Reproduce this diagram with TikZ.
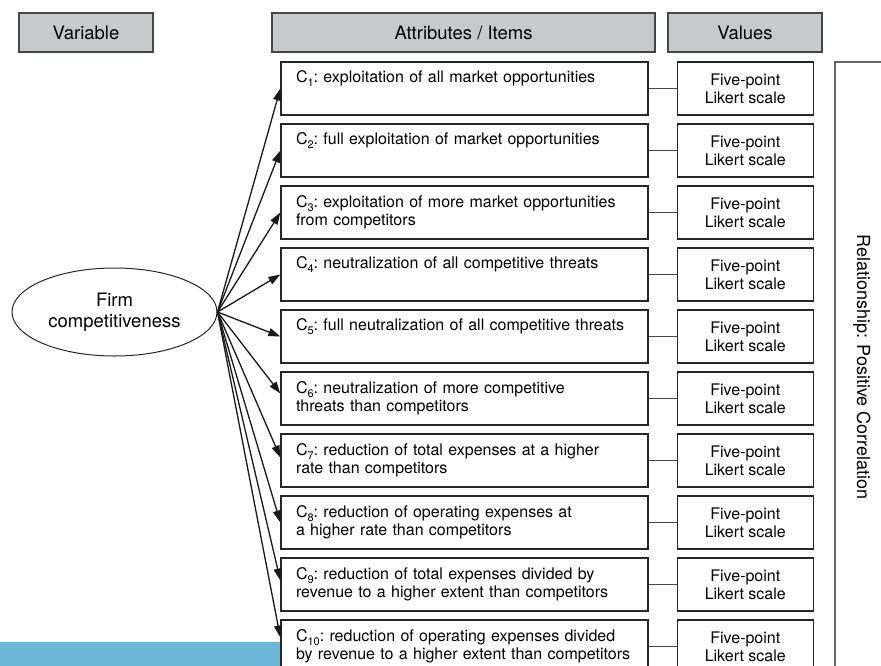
\documentclass[tikz,border=0pt]{standalone}
\usepackage{fontspec}
\setmainfont{TeX Gyre Heros}
\usetikzlibrary{positioning,shapes.geometric,arrows.meta}
\definecolor{headgray}{RGB}{200, 201, 203}
\definecolor{linegray}{RGB}{70, 70, 70}
\definecolor{bracketgray}{RGB}{100, 100, 100}
\definecolor{barblue}{RGB}{110, 185, 215}
\newcommand{\csub}[1]{\raisebox{-3.5pt}{\fontsize{11}{11}\selectfont #1}}

\begin{document}
\begin{tikzpicture}[x=1pt, y=-1pt,
    every node/.style={align=center, font=\fontsize{16}{18}\selectfont},
    header/.style={rectangle, draw=linegray, fill=headgray, line width=1.3pt, minimum height=39pt, font=\fontsize{18.5}{21}\selectfont},
    item/.style={rectangle, draw=black!85, line width=1.3pt, minimum height=53pt, text width=337pt, inner xsep=15pt, align=left, font=\fontsize{16}{18}\selectfont\frenchspacing},
    valuebox/.style={rectangle, draw=black!85, line width=1.3pt, minimum width=136pt, minimum height=53pt},
    latent/.style={ellipse, draw=black!85, line width=1pt, minimum width=205pt, minimum height=88pt, inner sep=0pt, font=\fontsize{18.5}{21}\selectfont},
    arrow/.style={-{Triangle[length=12pt,width=8pt]}, line width=1.3pt, draw=black!90},
    link/.style={line width=1.3pt, draw=linegray}
]
    \useasboundingbox (0,0) rectangle (881,665);
    \fill[barblue] (0,642) rectangle (281,670);

    % Headers
    \node[header, minimum width=134pt] (hvar) at (86,32.5) {Variable};
    \node[header, minimum width=383pt] (hitem) at (463.5,32.5) {Attributes / Items};
    \node[header, minimum width=154pt] (hval) at (745,32.5) {Values};

    % Variable
    \node[latent] (firm) at (114.5,312) {Firm\\competitiveness};

    % Items
    \node[item] (c1) at (464.5,88.5) {C\csub{1}: exploitation of all market opportunities\\ \strut};
    \node[item, below=7.7pt of c1] (c2) {C\csub{2}: full exploitation of market opportunities\\ \strut};
    \node[item, below=7.7pt of c2] (c3) {C\csub{3}: exploitation of more market opportunities\\from competitors};
    \node[item, below=7.7pt of c3] (c4) {C\csub{4}: neutralization of all competitive threats\\ \strut};
    \node[item, below=7.7pt of c4] (c5) {C\csub{5}: full neutralization of all competitive threats\\ \strut};
    \node[item, below=7.7pt of c5] (c6) {C\csub{6}: neutralization of more competitive\\threats than competitors};
    \node[item, below=7.7pt of c6] (c7) {C\csub{7}: reduction of total expenses at a higher\\rate than competitors};
    \node[item, below=7.7pt of c7] (c8) {C\csub{8}: reduction of operating expenses at\\a higher rate than competitors};
    \node[item, below=7.7pt of c8] (c9) {C\csub{9}: reduction of total expenses divided by\\revenue to a higher extent than competitors};
    \node[item, below=7.7pt of c9] (c10) {C\csub{10}: reduction of operating expenses divided\\by revenue to a higher extent than competitors};

    % Values
    \node[valuebox, right=28pt of c1] (v1) {Five-point\\Likert scale};
    \node[valuebox, right=28pt of c2] (v2) {Five-point\\Likert scale};
    \node[valuebox, right=28pt of c3] (v3) {Five-point\\Likert scale};
    \node[valuebox, right=28pt of c4] (v4) {Five-point\\Likert scale};
    \node[valuebox, right=28pt of c5] (v5) {Five-point\\Likert scale};
    \node[valuebox, right=28pt of c6] (v6) {Five-point\\Likert scale};
    \node[valuebox, right=28pt of c7] (v7) {Five-point\\Likert scale};
    \node[valuebox, right=28pt of c8] (v8) {Five-point\\Likert scale};
    \node[valuebox, right=28pt of c9] (v9) {Five-point\\Likert scale};
    \node[valuebox, right=28pt of c10] (v10) {Five-point\\Likert scale};

    % Arrows
    \draw[arrow] (firm.east) -- (c1.west);
    \draw[arrow] (firm.east) -- (c2.west);
    \draw[arrow] (firm.east) -- (c3.west);
    \draw[arrow] (firm.east) -- (c4.west);
    \draw[arrow] (firm.east) -- (c5.west);
    \draw[arrow] (firm.east) -- ([yshift=5pt]c6.west);
    \draw[arrow] (firm.east) -- ([yshift=3pt]c7.west);
    \draw[arrow] (firm.east) -- (c8.west);
    \draw[arrow] (firm.east) -- ([yshift=4pt]c9.west);
    \draw[arrow] (firm.east) -- ([yshift=9pt]c10.west);

    \draw[link] (c1) -- (v1);
    \draw[link] (c2) -- (v2);
    \draw[link] (c3) -- (v3);
    \draw[link] (c4) -- (v4);
    \draw[link] (c5) -- (v5);
    \draw[link] (c6) -- (v6);
    \draw[link] (c7) -- (v7);
    \draw[link] (c8) -- (v8);
    \draw[link] (c9) -- (v9);
    \draw[link] (c10) -- (v10);

    % Relationship
    \draw[bracketgray, line width=1.3pt] (835,670) -- (835,62) -- (885,62);
    \node[rotate=-90, font=\fontsize{18}{21}\selectfont] (rel) at (862,367) {Relationship: Positive Correlation};
\end{tikzpicture}
\end{document}
